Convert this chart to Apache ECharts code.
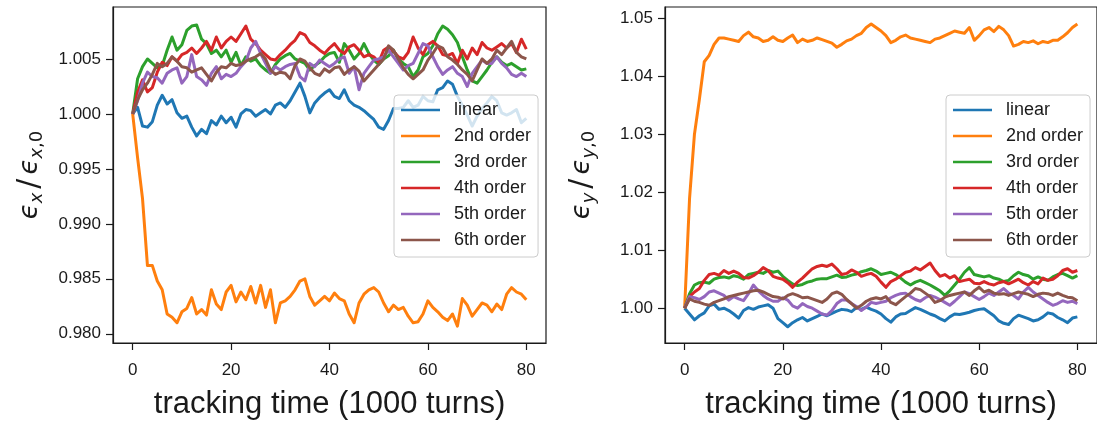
<!DOCTYPE html>
<html>
<head>
<meta charset="utf-8">
<script src="https://cdn.jsdelivr.net/npm/echarts@6/dist/echarts.min.js"></script>
<style>
  html, body { margin: 0; padding: 0; background: #fff; }
  #chart { width: 1097px; height: 425px; }
</style>
</head>
<body>
<div id="chart"></div>
<script>
// tracking time in units of 1000 turns
const turns = [0,1,2,3,4,5,6,7,8,9,10,11,12,13,14,15,16,17,18,19,20,21,22,23,24,25,26,27,28,29,30,31,32,33,34,35,36,37,38,39,40,41,42,43,44,45,46,47,48,49,50,51,52,53,54,55,56,57,58,59,60,61,62,63,64,65,66,67,68,69,70,71,72,73,74,75,76,77,78,79,80];

const seriesNames = ['linear', '2nd order', '3rd order', '4th order', '5th order', '6th order'];
const seriesColors = ['#1f77b4', '#ff7f0e', '#2ca02c', '#d62728', '#9467bd', '#8c564b'];

// horizontal emittance ratio eps_x / eps_x0
const exLinear = [1.0000,1.0006,0.9989,0.9988,0.9993,1.0008,1.0017,1.0009,1.0013,1.0001,0.9996,0.9998,0.9988,0.9980,0.9986,0.9982,0.9994,0.9990,0.9998,0.9992,0.9997,0.9988,1.0000,1.0004,1.0003,0.9998,1.0001,1.0004,1.0000,1.0008,1.0010,1.0006,1.0012,1.0020,1.0028,1.0016,1.0001,1.0010,1.0015,1.0019,1.0022,1.0016,1.0014,1.0022,1.0012,1.0008,1.0006,1.0003,0.9999,0.9995,0.9988,0.9986,0.9994,1.0005,1.0005,1.0006,1.0012,1.0006,1.0008,1.0016,1.0012,1.0011,1.0022,1.0024,1.0030,1.0027,1.0016,1.0008,0.9999,0.9989,0.9998,1.0005,1.0010,1.0016,1.0012,1.0001,0.9999,1.0001,1.0004,0.9992,0.9996];
const exOrder2 = [1.0000,0.9960,0.9923,0.9862,0.9862,0.9848,0.9840,0.9818,0.9815,0.9810,0.9820,0.9823,0.9833,0.9818,0.9822,0.9817,0.9840,0.9827,0.9822,0.9838,0.9844,0.9829,0.9838,0.9831,0.9843,0.9828,0.9844,0.9824,0.9840,0.9810,0.9828,0.9830,0.9834,0.9840,0.9848,0.9850,0.9834,0.9826,0.9830,0.9834,0.9830,0.9837,0.9832,0.9830,0.9818,0.9810,0.9828,0.9836,0.9840,0.9842,0.9838,0.9828,0.9820,0.9826,0.9822,0.9824,0.9816,0.9810,0.9811,0.9818,0.9830,0.9824,0.9820,0.9815,0.9812,0.9818,0.9807,0.9832,0.9826,0.9816,0.9822,0.9828,0.9826,0.9820,0.9827,0.9822,0.9836,0.9842,0.9838,0.9836,0.9831];
const exOrder3 = [1.0000,1.0032,1.0043,1.0050,1.0046,1.0042,1.0044,1.0058,1.0070,1.0058,1.0063,1.0076,1.0080,1.0081,1.0068,1.0064,1.0055,1.0058,1.0052,1.0058,1.0047,1.0056,1.0044,1.0052,1.0048,1.0050,1.0044,1.0040,1.0037,1.0045,1.0050,1.0053,1.0055,1.0050,1.0048,1.0046,1.0040,1.0044,1.0047,1.0052,1.0055,1.0056,1.0047,1.0064,1.0058,1.0050,1.0055,1.0064,1.0055,1.0049,1.0045,1.0050,1.0053,1.0058,1.0050,1.0046,1.0043,1.0034,1.0040,1.0052,1.0055,1.0062,1.0073,1.0080,1.0077,1.0072,1.0065,1.0052,1.0040,1.0030,1.0028,1.0034,1.0040,1.0047,1.0052,1.0047,1.0044,1.0046,1.0043,1.0040,1.0041];
const exOrder4 = [1.0000,1.0020,1.0031,1.0020,1.0024,1.0038,1.0047,1.0044,1.0052,1.0048,1.0054,1.0056,1.0060,1.0055,1.0060,1.0066,1.0058,1.0070,1.0060,1.0066,1.0070,1.0066,1.0073,1.0080,1.0068,1.0064,1.0058,1.0054,1.0050,1.0049,1.0054,1.0058,1.0063,1.0067,1.0074,1.0072,1.0065,1.0062,1.0058,1.0055,1.0060,1.0064,1.0058,1.0055,1.0061,1.0063,1.0058,1.0052,1.0054,1.0052,1.0047,1.0058,1.0061,1.0057,1.0052,1.0050,1.0056,1.0070,1.0060,1.0054,1.0063,1.0066,1.0062,1.0054,1.0053,1.0055,1.0046,1.0058,1.0050,1.0060,1.0054,1.0065,1.0060,1.0058,1.0061,1.0064,1.0060,1.0064,1.0056,1.0068,1.0059];
const exOrder5 = [1.0000,1.0012,1.0028,1.0038,1.0034,1.0033,1.0028,1.0037,1.0040,1.0042,1.0028,1.0034,1.0054,1.0034,1.0031,1.0026,1.0037,1.0043,1.0032,1.0036,1.0034,1.0037,1.0043,1.0048,1.0060,1.0066,1.0055,1.0046,1.0037,1.0043,1.0040,1.0043,1.0045,1.0046,1.0034,1.0030,1.0046,1.0043,1.0049,1.0046,1.0043,1.0046,1.0050,1.0052,1.0037,1.0043,1.0022,1.0037,1.0043,1.0049,1.0050,1.0052,1.0058,1.0052,1.0046,1.0040,1.0044,1.0046,1.0055,1.0064,1.0062,1.0052,1.0043,1.0036,1.0040,1.0043,1.0037,1.0034,1.0025,1.0037,1.0043,1.0049,1.0046,1.0046,1.0052,1.0046,1.0042,1.0036,1.0034,1.0037,1.0034];
const exOrder6 = [1.0000,1.0013,1.0022,1.0028,1.0036,1.0046,1.0043,1.0046,1.0052,1.0048,1.0043,1.0042,1.0038,1.0040,1.0042,1.0036,1.0030,1.0038,1.0043,1.0042,1.0046,1.0044,1.0045,1.0048,1.0050,1.0052,1.0055,1.0050,1.0040,1.0036,1.0038,1.0037,1.0032,1.0044,1.0050,1.0048,1.0042,1.0037,1.0035,1.0041,1.0038,1.0042,1.0043,1.0036,1.0040,1.0043,1.0039,1.0030,1.0035,1.0040,1.0045,1.0050,1.0062,1.0058,1.0050,1.0042,1.0036,1.0032,1.0036,1.0040,1.0049,1.0055,1.0062,1.0060,1.0052,1.0049,1.0045,1.0040,1.0036,1.0030,1.0040,1.0050,1.0046,1.0050,1.0058,1.0054,1.0060,1.0066,1.0056,1.0052,1.0050];

// vertical emittance ratio eps_y / eps_y0
const eyLinear = [1.0000,0.9990,0.9980,0.9987,0.9992,1.0004,1.0007,0.9998,1.0000,0.9996,0.9990,0.9983,0.9996,1.0001,0.9998,1.0002,1.0004,1.0006,1.0000,0.9982,0.9975,0.9968,0.9975,0.9980,0.9984,0.9978,0.9982,0.9986,0.9990,0.9987,0.9991,0.9995,0.9998,0.9997,0.9994,1.0001,0.9998,1.0002,0.9998,0.9995,0.9990,0.9982,0.9976,0.9985,0.9990,0.9991,0.9996,1.0001,0.9998,0.9994,0.9990,0.9987,0.9982,0.9978,0.9985,0.9990,0.9989,0.9991,0.9993,0.9996,0.9998,0.9999,0.9993,0.9987,0.9978,0.9974,0.9972,0.9982,0.9988,0.9985,0.9982,0.9978,0.9980,0.9985,0.9992,0.9990,0.9984,0.9980,0.9975,0.9983,0.9985];
const eyOrder2 = [1.0000,1.0189,1.0300,1.0360,1.0425,1.0436,1.0455,1.0466,1.0466,1.0464,1.0462,1.0460,1.0470,1.0476,1.0468,1.0466,1.0460,1.0462,1.0468,1.0462,1.0460,1.0466,1.0471,1.0458,1.0464,1.0460,1.0462,1.0466,1.0463,1.0460,1.0457,1.0450,1.0455,1.0461,1.0464,1.0470,1.0474,1.0484,1.0490,1.0484,1.0478,1.0470,1.0458,1.0462,1.0468,1.0471,1.0466,1.0464,1.0462,1.0460,1.0458,1.0464,1.0466,1.0470,1.0474,1.0478,1.0476,1.0474,1.0484,1.0462,1.0470,1.0480,1.0484,1.0477,1.0486,1.0480,1.0470,1.0452,1.0455,1.0460,1.0458,1.0461,1.0456,1.0460,1.0458,1.0462,1.0462,1.0468,1.0475,1.0484,1.0490];
const eyOrder3 = [1.0000,1.0025,1.0040,1.0044,1.0045,1.0043,1.0050,1.0053,1.0054,1.0052,1.0056,1.0054,1.0050,1.0058,1.0060,1.0062,1.0060,1.0065,1.0062,1.0064,1.0055,1.0048,1.0042,1.0039,1.0041,1.0045,1.0047,1.0050,1.0051,1.0051,1.0054,1.0057,1.0053,1.0054,1.0057,1.0059,1.0063,1.0065,1.0068,1.0064,1.0058,1.0060,1.0062,1.0058,1.0052,1.0045,1.0040,1.0045,1.0048,1.0044,1.0040,1.0035,1.0030,1.0022,1.0030,1.0040,1.0050,1.0062,1.0070,1.0058,1.0056,1.0054,1.0056,1.0052,1.0050,1.0046,1.0048,1.0056,1.0062,1.0058,1.0056,1.0050,1.0054,1.0050,1.0048,1.0054,1.0058,1.0060,1.0056,1.0052,1.0056];
const eyOrder4 = [1.0000,1.0020,1.0028,1.0034,1.0048,1.0058,1.0060,1.0057,1.0065,1.0060,1.0064,1.0060,1.0053,1.0052,1.0056,1.0062,1.0070,1.0065,1.0055,1.0052,1.0050,1.0044,1.0036,1.0045,1.0052,1.0060,1.0068,1.0072,1.0074,1.0072,1.0076,1.0068,1.0058,1.0060,1.0066,1.0062,1.0055,1.0058,1.0060,1.0055,1.0045,1.0036,1.0046,1.0050,1.0056,1.0062,1.0064,1.0070,1.0066,1.0072,1.0078,1.0065,1.0055,1.0058,1.0052,1.0056,1.0046,1.0048,1.0050,1.0043,1.0042,1.0046,1.0042,1.0040,1.0044,1.0046,1.0042,1.0046,1.0050,1.0044,1.0040,1.0046,1.0042,1.0052,1.0048,1.0050,1.0056,1.0065,1.0068,1.0062,1.0065];
const eyOrder5 = [1.0000,1.0020,1.0018,1.0015,1.0020,1.0028,1.0030,1.0026,1.0022,1.0014,1.0020,1.0016,1.0013,1.0025,1.0040,1.0030,1.0022,1.0016,1.0012,1.0012,1.0018,1.0014,1.0004,1.0000,1.0008,1.0003,1.0000,0.9995,0.9990,0.9988,0.9996,1.0008,1.0014,1.0014,1.0008,1.0003,0.9996,1.0002,1.0010,1.0008,1.0010,1.0012,1.0018,1.0022,1.0025,1.0026,1.0020,1.0015,1.0012,1.0018,1.0022,1.0019,1.0015,1.0010,1.0005,1.0012,1.0020,1.0028,1.0025,1.0020,1.0015,1.0020,1.0026,1.0022,1.0028,1.0034,1.0026,1.0022,1.0016,1.0028,1.0036,1.0028,1.0022,1.0016,1.0010,1.0005,1.0008,1.0013,1.0010,1.0012,1.0008];
const eyOrder6 = [1.0000,1.0016,1.0012,1.0010,1.0007,1.0005,1.0010,1.0013,1.0016,1.0020,1.0022,1.0024,1.0026,1.0028,1.0030,1.0031,1.0028,1.0024,1.0020,1.0019,1.0016,1.0022,1.0025,1.0022,1.0018,1.0019,1.0016,1.0013,1.0010,1.0016,1.0025,1.0028,1.0024,1.0015,1.0008,1.0000,1.0005,1.0012,1.0016,1.0018,1.0016,1.0020,1.0010,1.0006,1.0013,1.0020,1.0026,1.0034,1.0032,1.0026,1.0020,1.0010,1.0013,1.0019,1.0022,1.0024,1.0026,1.0028,1.0022,1.0030,1.0036,1.0028,1.0031,1.0026,1.0024,1.0025,1.0022,1.0025,1.0028,1.0026,1.0024,1.0020,1.0024,1.0026,1.0025,1.0022,1.0026,1.0022,1.0019,1.0018,1.0013];

const xTicks = [0, 20, 40, 60, 80];
const exTicks = [0.980, 0.985, 0.990, 0.995, 1.000, 1.005];
const eyTicks = [1.00, 1.01, 1.02, 1.03, 1.04, 1.05];

const xSeries = [exLinear, exOrder2, exOrder3, exOrder4, exOrder5, exOrder6];
const ySeries = [eyLinear, eyOrder2, eyOrder3, eyOrder4, eyOrder5, eyOrder6];

const FONT = 'Liberation Sans, Arial, sans-serif';
const INK = '#1a1a1a';

function makeXAxis(gridIndex) {
  return {
    type: 'value', gridIndex, min: -4, max: 84,
    name: 'tracking time (1000 turns)',
    nameLocation: 'middle', nameGap: 46,
    nameTextStyle: { fontFamily: FONT, fontSize: 31, color: INK },
    axisLine: { show: true, onZero: false, lineStyle: { color: INK, width: 1.2 } },
    axisTick: { show: true, inside: false, length: 7, customValues: xTicks, lineStyle: { color: INK, width: 1.2 } },
    axisLabel: { customValues: xTicks, fontFamily: FONT, fontSize: 17, color: INK, margin: 19 },
    splitLine: { show: false }
  };
}

function makeYAxis(gridIndex, min, max, ticks, digits, nameRich) {
  return {
    type: 'value', gridIndex, min, max,
    name: nameRich,
    nameLocation: 'middle', nameRotate: 90, nameGap: 66,
    nameTextStyle: {
      color: INK,
      rich: {
        e: { fontFamily: 'DejaVu Sans', fontStyle: 'italic', fontSize: 26, color: INK, lineHeight: 34, verticalAlign: 'middle' },
        s: { fontFamily: 'DejaVu Sans', fontStyle: 'italic', fontSize: 18, color: INK, lineHeight: 34, verticalAlign: 'bottom', padding: [0, 0, 1, 0] },
        n: { fontFamily: 'DejaVu Sans', fontSize: 18, color: INK, lineHeight: 34, verticalAlign: 'bottom', padding: [0, 0, 1, 0] },
        sl: { fontFamily: 'DejaVu Sans', fontSize: 30, color: INK, lineHeight: 34, verticalAlign: 'middle', padding: [0, 4, 0, 4] }
      }
    },
    axisLine: { show: true, onZero: false, lineStyle: { color: INK, width: 1.2 } },
    axisTick: { show: true, inside: false, length: 7, customValues: ticks, lineStyle: { color: INK, width: 1.2 } },
    axisLabel: {
      customValues: ticks, fontFamily: FONT, fontSize: 17, color: INK, margin: 12,
      formatter: v => Number(v).toFixed(digits)
    },
    splitLine: { show: false }
  };
}

function makeSeries(values, idx, axisIndex) {
  return {
    type: 'line',
    name: seriesNames[idx],
    xAxisIndex: axisIndex, yAxisIndex: axisIndex,
    data: turns.map((t, i) => [t, values[i]]),
    showSymbol: false, symbol: 'none',
    lineStyle: { color: seriesColors[idx], width: 3, join: 'round' },
    itemStyle: { color: seriesColors[idx] },
    emphasis: { disabled: true },
    silent: true,
    animation: false
  };
}

function makeLegend(left) {
  return {
    orient: 'vertical', left, top: 95,
    data: seriesNames.map(n => ({ name: n, icon: 'rect' })),
    itemWidth: 39, itemHeight: 2.5, itemGap: 6,
    padding: [5, 7, 7, 7],
    backgroundColor: 'rgba(255,255,255,0.8)',
    borderColor: '#cccccc', borderWidth: 1, borderRadius: 4,
    selectedMode: false,
    textStyle: { fontFamily: FONT, fontSize: 18, color: INK, lineHeight: 20, padding: [0, 0, 0, 9] }
  };
}

const chart = echarts.init(document.getElementById('chart'), null, { renderer: 'canvas' });
chart.setOption({
  animation: false,
  backgroundColor: '#ffffff',
  color: seriesColors,
  grid: [
    { left: 113, top: 7, width: 433, height: 338, show: true, borderColor: INK, borderWidth: 1.2, backgroundColor: 'transparent' },
    { left: 665, top: 7, width: 433, height: 338, show: true, borderColor: INK, borderWidth: 1.2, backgroundColor: 'transparent' }
  ],
  xAxis: [makeXAxis(0), makeXAxis(1)],
  yAxis: [
    makeYAxis(0, 0.97916, 1.00973, exTicks, 3, '{e|ϵ}{s|x}{sl|/}{e|ϵ}{s|x}{n|,0}'),
    makeYAxis(1, 0.99400, 1.05194, eyTicks, 2, '{e|ϵ}{s|y}{sl|/}{e|ϵ}{s|y}{n|,0}')
  ],
  legend: [makeLegend(394), makeLegend(946)],
  series: [
    ...xSeries.map((v, i) => makeSeries(v, i, 0)),
    ...ySeries.map((v, i) => makeSeries(v, i, 1))
  ]
});
</script>
</body>
</html>
